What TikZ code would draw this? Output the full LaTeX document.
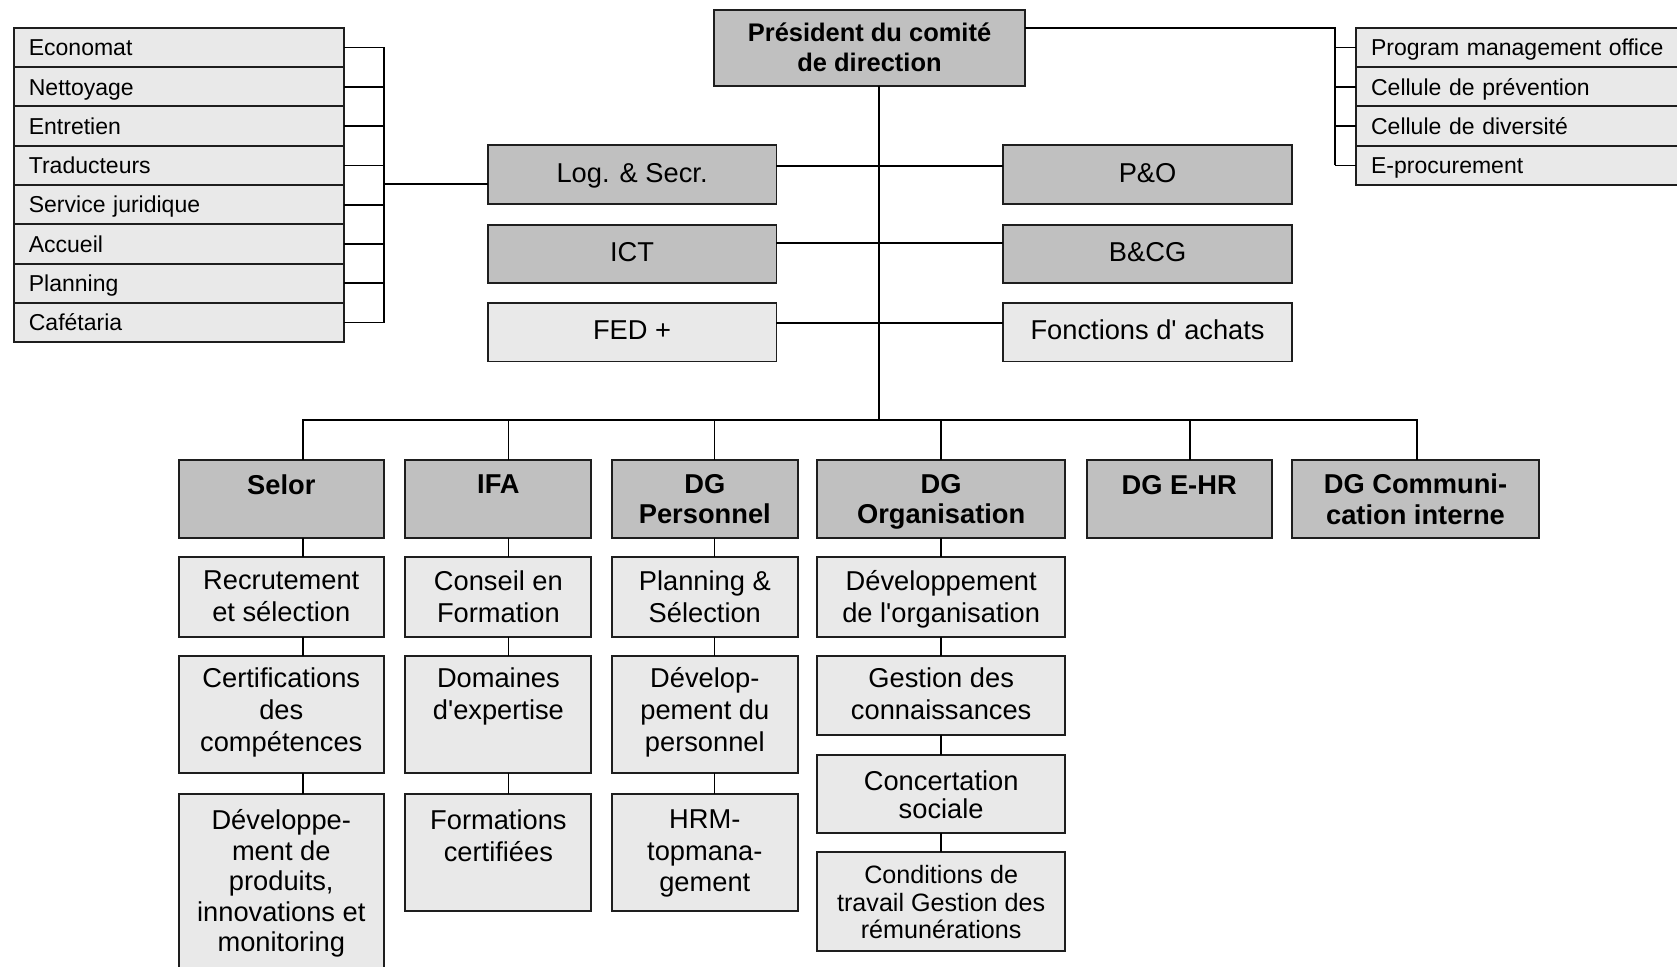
\documentclass[tikz,border=0pt]{standalone}
\usepackage{fontspec}
\setmainfont{Liberation Sans}
\usetikzlibrary{calc}
\definecolor{boxdark}{HTML}{C0C0C0}
\definecolor{boxlight}{HTML}{E9E9E9}
\definecolor{edge}{HTML}{1E1E1E}

% box: style, name, x1, y1, x2, y2 (y grows downwards)
\newcommand\orgbox[6]{\node[#1, minimum width={#5-#3}, minimum height={#6-#4}] (#2) at (#3,#4) {};}
% text block hung from the top of a box: [style], name, box, drop, text
\newcommand\inbox[5][txt]{\node[#1] (#2) at ([yshift=-#4pt]#3.north) {#5};}
% centred one-line label: name, box, text
\newcommand\midtext[3]{\node[txt, anchor=base] (#1) at ([yshift=-7pt]#2.center) {#3};}
% row of a side list: name, x, y, text width, text
\newcommand\listrow[5]{\node[row, text width=#4] (#1) at (#2,#3) {#5};}

\begin{document}
\begin{tikzpicture}[x=1pt, y=-1pt,
  base/.style={draw=edge, line width=1.8pt, inner sep=0pt, outer sep=0pt, anchor=north west},
  dark/.style={base, fill=boxdark},
  light/.style={base, fill=boxlight},
  row/.style={light, inner xsep=14pt, inner ysep=0pt, minimum height=36.75pt,
    text height=20pt, text depth=4.5pt, align=left, font=\fontsize{21.5}{24}\selectfont},
  link/.style={draw=black, line width=1.6pt},
  txt/.style={font=\fontsize{25.5}{30}\selectfont, align=center, inner sep=0pt, anchor=north},
  btxt/.style={txt, font=\bfseries\fontsize{25.5}{28.5}\selectfont},
  ptxt/.style={txt, font=\bfseries\fontsize{23.8}{28}\selectfont}]
\clip (0,0) rectangle (1568,904);
\fill[white] (0,0) rectangle (1568,904);

% ---------- junction points ----------
\coordinate (lb) at (359,172);
\coordinate (rb) at (1248,26);
\coordinate (bus) at (822,393);

% president
\orgbox{dark}{pres}{668}{9}{958}{80}

% left list
\listrow{l1}{13}{26}{281pt}{Economat}
\listrow{l2}{13}{62.75}{281pt}{Nettoyage}
\listrow{l3}{13}{99.5}{281pt}{Entretien}
\listrow{l4}{13}{136.25}{281pt}{Traducteurs}
\listrow{l5}{13}{173}{281pt}{Service juridique}
\listrow{l6}{13}{209.75}{281pt}{Accueil}
\listrow{l7}{13}{246.5}{281pt}{Planning}
\listrow{l8}{13}{283.25}{281pt}{Cafétaria}

% right list
\listrow{r1}{1268}{26}{290pt}{Program management office}
\listrow{r2}{1268}{62.75}{290pt}{Cellule de prévention}
\listrow{r3}{1268}{99.5}{290pt}{Cellule de diversité}
\listrow{r4}{1268}{136.25}{290pt}{E-procurement}

% staff services
\orgbox{dark}{log}{456}{136}{726}{191}
\orgbox{dark}{ict}{456}{210}{726}{265}
\orgbox{light}{fed}{456}{283}{726}{338}
\orgbox{dark}{po}{938}{136}{1208}{191}
\orgbox{dark}{bcg}{938}{210}{1208}{265}
\orgbox{light}{fa}{938}{283}{1208}{338}

% directorates
\orgbox{dark}{selor}{167}{430}{359}{503}
\orgbox{dark}{ifa}{379}{430}{553}{503}
\orgbox{dark}{dgp}{572}{430}{746}{503}
\orgbox{dark}{dgo}{764}{430}{996}{503}
\orgbox{dark}{ehr}{1016}{430}{1189}{503}
\orgbox{dark}{com}{1208}{430}{1439}{503}

% Selor
\orgbox{light}{s1}{167}{521}{359}{596}
\orgbox{light}{s2}{167}{613}{359}{723}
\orgbox{light}{s3}{167}{742}{359}{920}
% IFA
\orgbox{light}{i1}{379}{521}{553}{596}
\orgbox{light}{i2}{379}{613}{553}{723}
\orgbox{light}{i3}{379}{742}{553}{852}
% DG Personnel
\orgbox{light}{p1}{572}{521}{746}{596}
\orgbox{light}{p2}{572}{613}{746}{723}
\orgbox{light}{p3}{572}{742}{746}{852}
% DG Organisation
\orgbox{light}{o1}{764}{521}{996}{596}
\orgbox{light}{o2}{764}{613}{996}{687}
\orgbox{light}{o3}{764}{706}{996}{779}
\orgbox{light}{o4}{764}{797}{996}{889}

% ---------- lines ----------
\foreach \r in {l1,l2,l3,l4,l5,l6,l7,l8}
  \draw[link] (\r.east) -- (\r.east -| lb);
\draw[link] (l1.east -| lb) -- (l8.east -| lb);
\draw[link] (lb) -- (lb -| log.west);

\draw[link] (rb -| pres.east) -- (rb) -- (rb |- r4.west);
\foreach \r in {r1,r2,r3,r4}
  \draw[link] (\r.west -| rb) -- (\r.west);

\draw[link] (pres.south -| bus) -- (bus);
\draw[link] ([yshift=8.5pt]log.east) -- ([yshift=8.5pt]po.west);
\draw[link] ([yshift=10pt]ict.east) -- ([yshift=10pt]bcg.west);
\draw[link] ([yshift=8.5pt]fed.east) -- ([yshift=8.5pt]fa.west);

\draw[link] ([xshift=20pt]selor.north) |- (bus);
\draw[link] ([xshift=9.5pt]ifa.north) |- (bus);
\draw[link] ([xshift=9pt]dgp.north) |- (bus);
\draw[link] (dgo.north) |- (bus);
\draw[link] ([xshift=10pt]ehr.north) |- (bus);
\draw[link] ([xshift=1.5pt]com.north) |- (bus);

\draw[link] ([xshift=20pt]selor.south) -- ([xshift=20pt]s1.north);
\draw[link] ([xshift=20pt]s1.south) -- ([xshift=20pt]s2.north);
\draw[link] ([xshift=20pt]s2.south) -- ([xshift=20pt]s3.north);
\draw[link] ([xshift=9.5pt]ifa.south) -- ([xshift=9.5pt]i1.north);
\draw[link] ([xshift=9.5pt]i1.south) -- ([xshift=9.5pt]i2.north);
\draw[link] ([xshift=9.5pt]i2.south) -- ([xshift=9.5pt]i3.north);
\draw[link] ([xshift=9pt]dgp.south) -- ([xshift=9pt]p1.north);
\draw[link] ([xshift=9pt]p1.south) -- ([xshift=9pt]p2.north);
\draw[link] ([xshift=9pt]p2.south) -- ([xshift=9pt]p3.north);
\draw[link] (dgo.south) -- (o1.north);
\draw[link] (o1.south) -- (o2.north);
\draw[link] (o2.south) -- (o3.north);
\draw[link] (o3.south) -- (o4.north);

% ---------- texts ----------
\inbox[ptxt]{pres-t}{pres}{12.5}{Président du comité\\de direction}

\midtext{log-t}{log}{Log. \& Secr.}
\midtext{ict-t}{ict}{ICT}
\midtext{fed-t}{fed}{FED +}
\midtext{po-t}{po}{P\&O}
\midtext{bcg-t}{bcg}{B\&CG}
\midtext{fa-t}{fa}{Fonctions d\textquotesingle{} achats}

\inbox[btxt]{selor-t}{selor}{14}{Selor}
\inbox[btxt]{ifa-t}{ifa}{14}{IFA}
\inbox[btxt]{dgp-t}{dgp}{13}{DG\\Personnel}
\inbox[btxt]{dgo-t}{dgo}{13}{DG\\Organisation}
\inbox[btxt]{ehr-t}{ehr}{14}{DG E-HR}
\inbox[btxt]{com-t}{com}{13}{DG Communi-\\cation interne}

\inbox{s1-t}{s1}{12}{Recrutement\\et sélection}
\inbox{s2-t}{s2}{11}{Certifications\\des\\compétences}
\inbox[txt, font=\fontsize{25.5}{28.5}\selectfont]{s3-t}{s3}{15}{Développe-\\ment de\\produits,\\innovations et\\monitoring}
\inbox{i1-t}{i1}{12}{Conseil en\\Formation}
\inbox{i2-t}{i2}{11}{Domaines\\d\textquotesingle expertise}
\inbox{i3-t}{i3}{15}{Formations\\certifiées}
\inbox{p1-t}{p1}{12}{Planning \&\\Sélection}
\inbox{p2-t}{p2}{11}{Dévelop-\\pement du\\personnel}
\inbox[txt, font=\fontsize{25.5}{29.5}\selectfont]{p3-t}{p3}{15}{HRM-\\topmana-\\gement}
\inbox{o1-t}{o1}{12}{Développement\\de l\textquotesingle organisation}
\inbox{o2-t}{o2}{11}{Gestion des\\connaissances}
\inbox[txt, font=\fontsize{25.5}{27}\selectfont]{o3-t}{o3}{14}{Concertation\\sociale}
\inbox[txt, font=\fontsize{23.5}{26}\selectfont]{o4-t}{o4}{11.6}{Conditions de\\travail Gestion des\\rémunérations}
\end{tikzpicture}
\end{document}
